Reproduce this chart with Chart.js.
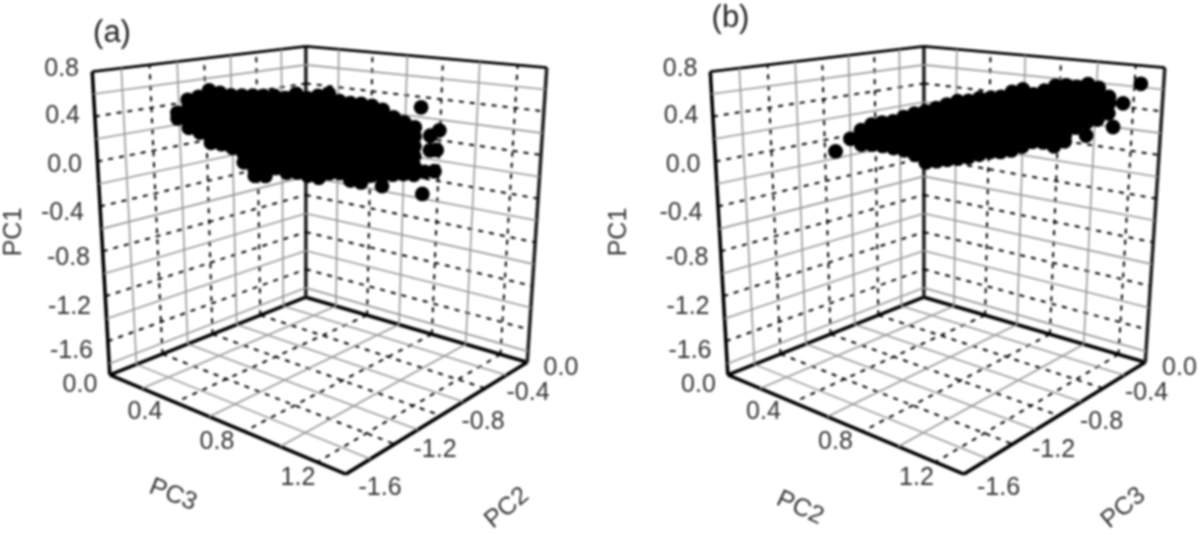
<!DOCTYPE html>
<html>
<head>
<meta charset="utf-8">
<script src="https://cdn.jsdelivr.net/npm/chart.js@4"></script>
<style>
  html, body { margin: 0; padding: 0; background: #fff; overflow: hidden; }
  canvas { position: absolute; top: 0; filter: blur(1px); }
</style>
</head>
<body>
<canvas id="panelA" width="600" height="535" style="left:0"></canvas>
<canvas id="panelB" width="600" height="535" style="left:600px"></canvas>
<script>
// panel (a) cloud, one entry per column of points
const aPC3 = [.268,.303,.337,.371,.404,.438,.472,.505,.538,.571,.604,.637,.669,.702,.734,.766,.798,.830,.862,.893,.925,.956,.987];
const aPC2 = [-1.328,-1.292,-1.255,-1.219,-1.182,-1.145,-1.108,-1.071,-1.034,-.996,-.959,-.921,-.883,-.844,-.806,-.768,-.729,-.690,-.651,-.612,-.572,-.532,-.493];
const aPC1 = [
  [.47,.42],
  [.59,.51,.42,.34],
  [.62,.55,.47,.38,.30],
  [.68,.60,.51,.42,.34,.25,.21],
  [.66,.55,.47,.38,.29,.20],
  [.64,.60,.51,.42,.34,.25,.17],
  [.64,.55,.47,.38,.29,.20,.12,.04],
  [.64,.60,.51,.42,.34,.25,.16,.07,-.02,-.08],
  [.64,.55,.47,.38,.29,.20,.12,.03,-.06,-.08],
  [.64,.60,.51,.42,.34,.25,.16,.07,-.01],
  [.62,.55,.47,.38,.29,.20,.12,.03,-.05],
  [.66,.60,.51,.42,.34,.25,.16,.07,-.02,-.05],
  [.62,.55,.47,.38,.29,.20,.12,.03,-.06,-.08],
  [.64,.60,.51,.42,.34,.25,.16,.07,-.02,-.10],
  [.66,.55,.47,.38,.29,.20,.12,.03,-.06],
  [.59,.51,.42,.34,.25,.16,.07,-.02,-.06],
  [.57,.47,.38,.29,.20,.12,.03,-.06,-.13],
  [.56,.51,.42,.34,.25,.16,.07,-.02,-.10,-.15],
  [.54,.47,.38,.29,.20,.12,.03,-.06,-.09],
  [.50,.42,.34,.25,.16,.07,-.02,-.10,-.19],
  [.43,.38,.29,.20,.12,.03,-.06,-.09],
  [.38,.34,.25,.16,.07,-.02,-.09],
  [.33,.25,.16,.07,-.02,-.10]
];
// panel (a) outliers
const aOutPC3 = [1.004,1.058,1.032,1.032,1.052,1.047,1.018,1.013];
const aOutPC2 = [-.471,-.401,-.434,-.434,-.409,-.415,-.453,-.459];
const aOutPC1 = [.511,.292,.248,.116,.116,-.077,-.077,-.278];

// panel (b) cloud
const bPC2 = [.438,.472,.505,.538,.571,.604,.637,.669,.702,.734,.766,.798,.830,.862,.893,.925,.956,.987,1.018,1.049,1.080,1.110,1.141,1.171,1.201];
const bPC3 = [-1.145,-1.108,-1.071,-1.034,-.996,-.959,-.921,-.883,-.844,-.806,-.768,-.729,-.690,-.651,-.612,-.572,-.532,-.493,-.453,-.412,-.372,-.332,-.291,-.250,-.209];
const bPC1 = [
  [.25],
  [.33,.25,.20],
  [.38,.29,.20],
  [.40,.34,.25,.19],
  [.41,.33,.25,.17],
  [.45,.38,.29,.20,.15],
  [.48,.42,.34,.25,.16,.11],
  [.50,.47,.38,.29,.20,.12,.04],
  [.53,.45,.36,.27,.18,.09,.05],
  [.56,.47,.38,.29,.20,.12,.06],
  [.59,.51,.42,.34,.25,.16,.07],
  [.59,.55,.47,.38,.29,.20,.12,.08],
  [.61,.51,.42,.34,.25,.16,.10],
  [.61,.55,.47,.38,.29,.20,.12],
  [.62,.51,.42,.34,.25,.16,.12],
  [.66,.55,.47,.38,.29,.20,.13],
  [.68,.60,.51,.42,.34,.25,.16],
  [.63,.55,.47,.38,.29,.20],
  [.66,.60,.51,.42,.34,.25,.19],
  [.70,.64,.55,.47,.38,.29,.20,.15],
  [.70,.60,.51,.42,.34,.25,.19],
  [.68,.58,.49,.40,.31],
  [.70,.60,.51,.42,.35],
  [.66,.55,.47,.37],
  [.57,.51,.42]
];
// panel (b) outliers
const bOutPC2 = [.390,1.241,1.216,1.140,1.287];
const bOutPC3 = [-1.197,-.154,-.188,-.290,-.089];
const bOutPC1 = [.134,.502,.292,.230,.669];

// grid ticks
const pc1Major = [.4,0,-.4,-.8,-1.2,-1.6];
const pc1Minor = [.6,.2,-.2,-.6,-1,-1.4,-1.8];
const frontMajor = [.4,.8,1.2];
const frontMinor = [.2,.6,1];
const sideMajor = [-1.2,-.8,-.4];
const sideMinor = [-1.4,-1,-.6,-.2];

// tick labels
const pc1Labels = ['0.8','0.4','0.0','-0.4','-0.8','-1.2','-1.6'];
const frontLabels = ['0.0','0.4','0.8','1.2'];
const sideLabels = ['0.0','-0.4','-0.8','-1.2','-1.6'];

// label anchors, x is the right end for PC1, centre for the others
const pc1LabelX = [79,80,82,84,90,91,93];
const pc1LabelY = [69,116,165,213,258,307,351];
const frontLabelX = [80,145,217,298];
const frontLabelY = [385,412,442,478];
const sideLabelX = [561,528,483,435,380];
const sideLabelY = [368,393,422,450,488];

// box corners in page pixels of panel (a)
const bottomCorners = { a: [105,378], b: [306,298], c: [533,365], d: [347,480] };
const topCorners = { a: [87,66], b: [306,40], c: [553,62], d: [334,123] };

const FRONT_MAX = 1.35, SIDE_MIN = -1.6, PC1_MIN = -1.9, PC1_MAX = 0.8;

function project(front, side, pc1, dx) {
  let u = front / FRONT_MAX;
  u = u / (1.1 - 0.1 * u);
  let v = (side - SIDE_MIN) / -SIDE_MIN;
  v = v * 1.1 / (1 + 0.1 * v);
  const z = (pc1 - PC1_MIN) / (PC1_MAX - PC1_MIN);
  const mix = (c, i) => (1 - u) * ((1 - v) * c.a[i] + v * c.b[i]) + u * ((1 - v) * c.d[i] + v * c.c[i]);
  return {
    x: dx + mix(bottomCorners, 0) * (1 - z) + mix(topCorners, 0) * z,
    y: mix(bottomCorners, 1) * (1 - z) + mix(topCorners, 1) * z
  };
}

function lineSet(points, color, width, dash) {
  return {
    type: 'scatter', data: points, showLine: true, fill: false, pointRadius: 0,
    borderColor: color, borderWidth: width, borderDash: dash || [], tension: 0
  };
}

function gridDatasets(dx) {
  const sets = [];
  const gray = '#999', dark = '#000';
  const dash = [5, 6];
  const add = (from, to, major) => sets.push(lineSet([from, to], major ? dark : gray, major ? 2 : 1.6, major ? dash : null));
  const P = (f, s, z) => project(f, s, z, dx);

  pc1Minor.forEach(z => {
    add(P(0, SIDE_MIN, z), P(0, 0, z), false);
    add(P(0, 0, z), P(FRONT_MAX, 0, z), false);
  });
  sideMinor.forEach(s => {
    add(P(0, s, PC1_MIN), P(0, s, PC1_MAX), false);
    add(P(0, s, PC1_MIN), P(FRONT_MAX, s, PC1_MIN), false);
  });
  frontMinor.forEach(f => {
    add(P(f, 0, PC1_MIN), P(f, 0, PC1_MAX), false);
    add(P(f, 0, PC1_MIN), P(f, SIDE_MIN, PC1_MIN), false);
  });
  pc1Major.forEach(z => {
    add(P(0, SIDE_MIN, z), P(0, 0, z), true);
    add(P(0, 0, z), P(FRONT_MAX, 0, z), true);
  });
  sideMajor.forEach(s => {
    add(P(0, s, PC1_MIN), P(0, s, PC1_MAX), true);
    add(P(0, s, PC1_MIN), P(FRONT_MAX, s, PC1_MIN), true);
  });
  frontMajor.forEach(f => {
    add(P(f, 0, PC1_MIN), P(f, 0, PC1_MAX), true);
    add(P(f, 0, PC1_MIN), P(f, SIDE_MIN, PC1_MIN), true);
  });

  // box edges
  const edge = (a, b, w, c) => sets.push(lineSet([a, b], c || '#000', w));
  edge(P(0, SIDE_MIN, PC1_MAX), P(0, 0, PC1_MAX), 2.8);
  edge(P(0, 0, PC1_MAX), P(FRONT_MAX, 0, PC1_MAX), 2.8);
  edge(P(0, SIDE_MIN, PC1_MIN), P(0, SIDE_MIN, PC1_MAX), 3.6);
  edge(P(0, 0, PC1_MIN), P(0, 0, PC1_MAX), 3.6, '#222');
  edge(P(FRONT_MAX, 0, PC1_MIN), P(FRONT_MAX, 0, PC1_MAX), 3.6, '#222');
  edge(P(0, SIDE_MIN, PC1_MIN), P(0, 0, PC1_MIN), 3.6);
  edge(P(0, 0, PC1_MIN), P(FRONT_MAX, 0, PC1_MIN), 3.6);
  edge(P(0, SIDE_MIN, PC1_MIN), P(FRONT_MAX, SIDE_MIN, PC1_MIN), 3.6);
  edge(P(FRONT_MAX, SIDE_MIN, PC1_MIN), P(FRONT_MAX, 0, PC1_MIN), 3.6);
  return sets;
}

function cloudPoints(fronts, sides, columns, outFront, outSide, outPC1, dx) {
  const pts = [];
  columns.forEach((col, i) => {
    col.forEach(z => pts.push(project(fronts[i], sides[i], z, dx)));
  });
  outPC1.forEach((z, i) => pts.push(project(outFront[i], outSide[i], z, dx)));
  return pts;
}

function makePanel(id, cfg) {
  const dx = cfg.dx;
  const textPlugin = {
    id: 'panelText',
    afterDraw(chart) {
      const ctx = chart.ctx;
      ctx.save();
      ctx.fillStyle = '#333';
      ctx.font = '25px "Liberation Sans"';
      ctx.textBaseline = 'middle';
      ctx.textAlign = 'right';
      pc1Labels.forEach((t, i) => ctx.fillText(t, pc1LabelX[i] + dx, pc1LabelY[i]));
      ctx.textAlign = 'center';
      frontLabels.forEach((t, i) => ctx.fillText(t, frontLabelX[i] + dx, frontLabelY[i]));
      sideLabels.forEach((t, i) => ctx.fillText(t, sideLabelX[i] + dx, sideLabelY[i]));
      cfg.titles.forEach(t => {
        ctx.save();
        ctx.translate(t.x + dx, t.y);
        ctx.rotate(t.angle * Math.PI / 180);
        ctx.fillText(t.text, 0, 0);
        ctx.restore();
      });
      ctx.font = '31px "Liberation Sans"';
      ctx.fillStyle = '#222';
      ctx.fillText(cfg.tag, 112 + dx, cfg.tagY);
      ctx.restore();
    }
  };
  new Chart(document.getElementById(id), {
    type: 'scatter',
    data: {
      datasets: [{
        data: cfg.points,
        pointRadius: 7.4,
        pointBackgroundColor: '#000',
        pointBorderWidth: 0,
        showLine: false
      }].concat(gridDatasets(dx))
    },
    options: {
      responsive: false,
      animation: false,
      layout: { padding: 0 },
      plugins: { legend: { display: false }, tooltip: { enabled: false } },
      scales: {
        x: { type: 'linear', min: 0, max: 600, display: false },
        y: { type: 'linear', min: 0, max: 535, reverse: true, display: false }
      }
    },
    plugins: [textPlugin]
  });
}

makePanel('panelA', {
  dx: 0, tag: '(a)', tagY: 33,
  points: cloudPoints(aPC3, aPC2, aPC1, aOutPC3, aOutPC2, aOutPC1, 0),
  titles: [
    { text: 'PC1', x: 14, y: 232, angle: -90 },
    { text: 'PC3', x: 173, y: 495, angle: 22 },
    { text: 'PC2', x: 507, y: 508, angle: -40 }
  ]
});
makePanel('panelB', {
  dx: 18.5, tag: '(b)', tagY: 18,
  points: cloudPoints(bPC2, bPC3, bPC1, bOutPC2, bOutPC3, bOutPC1, 18.5),
  titles: [
    { text: 'PC1', x: 1, y: 232, angle: -90 },
    { text: 'PC2', x: 181.5, y: 508, angle: 25 },
    { text: 'PC3', x: 505, y: 508, angle: -40 }
  ]
});
</script>
</body>
</html>
